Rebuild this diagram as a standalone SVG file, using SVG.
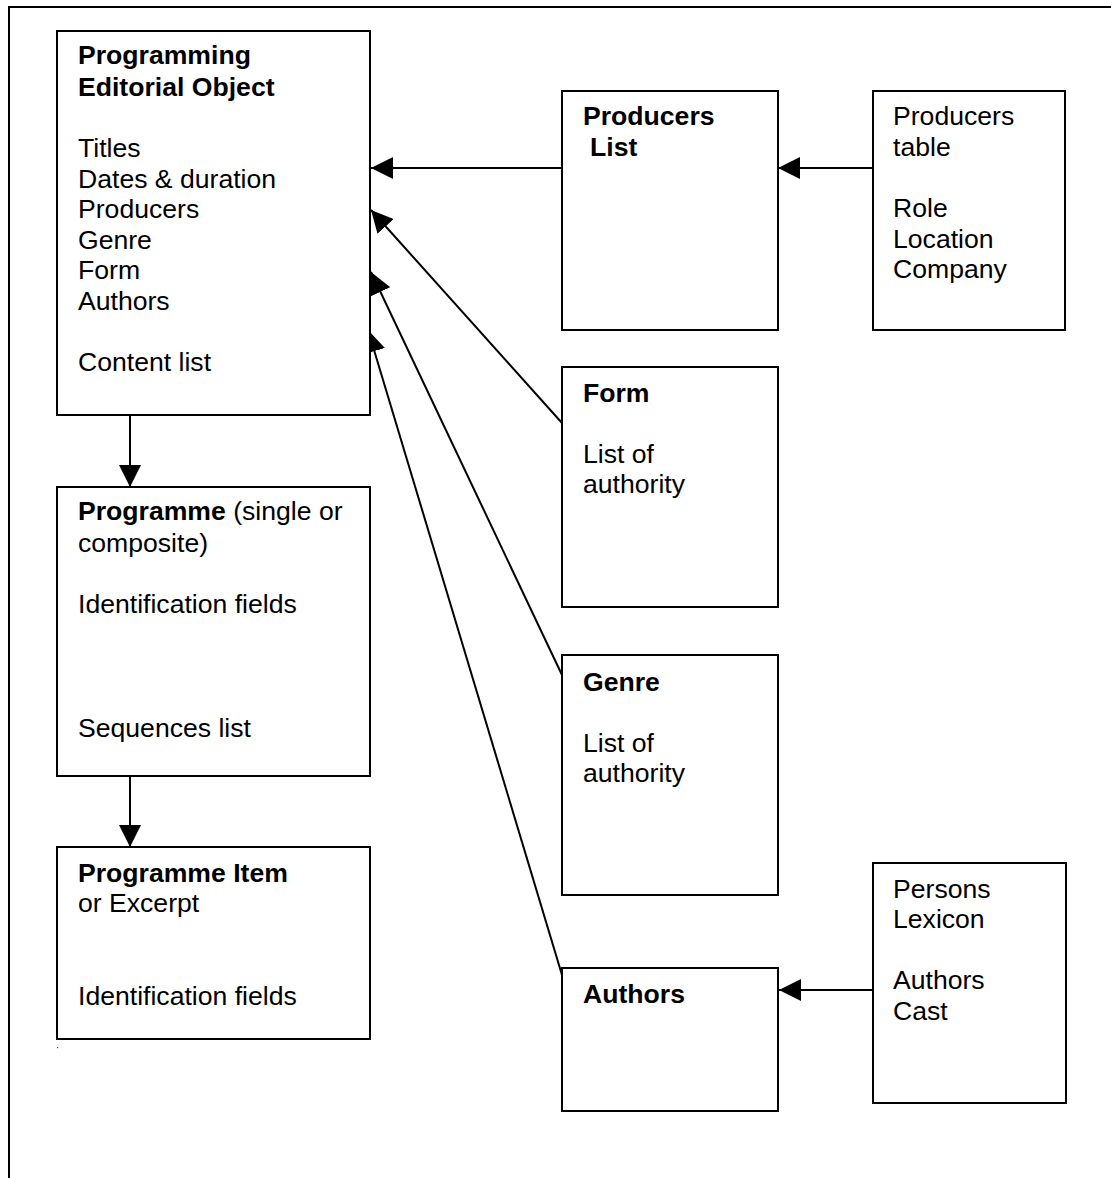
<svg xmlns="http://www.w3.org/2000/svg" width="1111" height="1178" viewBox="0 0 1111 1178">
  <style>
    .box { fill: #ffffff; stroke: #000000; stroke-width: 2; }
    .frame { fill: none; stroke: #000000; stroke-width: 2; }
    .conn { fill: none; stroke: #000000; stroke-width: 2; marker-end: url(#arrow); }
    text { font-family: "Liberation Sans", Arial, sans-serif; font-size: 26.6px; fill: #000000; }
    .b { font-weight: bold; }
  </style>
  <defs>
    <marker id="arrow" markerUnits="userSpaceOnUse" markerWidth="22" markerHeight="22" viewBox="0 0 20 20" refX="20" refY="10" orient="auto">
      <path d="M20,10 L0,0 L0,20 z" fill="#000000"/>
    </marker>
  </defs>

  <!-- page frame -->
  <polyline class="frame" points="9,1178 9,7 1111,7"/>

  <!-- connectors -->
  <g id="connectors">
    <line class="conn" x1="562" y1="168" x2="371" y2="168"/>
    <line class="conn" x1="873" y1="168" x2="778" y2="168"/>
    <line class="conn" x1="562" y1="423" x2="371" y2="210"/>
    <line class="conn" x1="562" y1="675" x2="371" y2="272"/>
    <line class="conn" x1="562" y1="975" x2="368" y2="330"/>
    <line class="conn" x1="873" y1="990" x2="779" y2="990"/>
    <line class="conn" x1="130" y1="415" x2="130" y2="487"/>
    <line class="conn" x1="130" y1="776" x2="130" y2="847"/>
  </g>

  <g id="editorial-object">
    <rect class="box" x="57" y="31" width="313" height="384"/>
    <text class="b" x="78" y="64">Programming</text>
    <text class="b" x="78" y="96">Editorial Object</text>
    <text x="78" y="157">Titles</text>
    <text x="78" y="188">Dates &amp; duration</text>
    <text x="78" y="218">Producers</text>
    <text x="78" y="249">Genre</text>
    <text x="78" y="279">Form</text>
    <text x="78" y="310">Authors</text>
    <text x="78" y="371">Content list</text>
  </g>

  <g id="programme">
    <rect class="box" x="57" y="487" width="313" height="289"/>
    <text x="78" y="520"><tspan class="b">Programme</tspan> (single or</text>
    <text x="78" y="552">composite)</text>
    <text x="78" y="613">Identification fields</text>
    <text x="78" y="737">Sequences list</text>
  </g>

  <g id="programme-item">
    <rect class="box" x="57" y="847" width="313" height="192"/>
    <text class="b" x="78" y="882">Programme Item</text>
    <text x="78" y="912">or Excerpt</text>
    <text x="78" y="1005">Identification fields</text>
  </g>
  <rect x="57" y="1047" width="1.2" height="1.2" fill="#555555"/>

  <g id="producers-list">
    <rect class="box" x="562" y="91" width="216" height="239"/>
    <text class="b" x="583" y="125">Producers</text>
    <text class="b" x="590" y="156">List</text>
  </g>

  <g id="producers-table">
    <rect class="box" x="873" y="91" width="192" height="239"/>
    <text x="893" y="125">Producers</text>
    <text x="893" y="156">table</text>
    <text x="893" y="217">Role</text>
    <text x="893" y="248">Location</text>
    <text x="893" y="278">Company</text>
  </g>

  <g id="form">
    <rect class="box" x="562" y="367" width="216" height="240"/>
    <text class="b" x="583" y="402">Form</text>
    <text x="583" y="463">List of</text>
    <text x="583" y="493">authority</text>
  </g>

  <g id="genre">
    <rect class="box" x="562" y="655" width="216" height="240"/>
    <text class="b" x="583" y="691">Genre</text>
    <text x="583" y="752">List of</text>
    <text x="583" y="782">authority</text>
  </g>

  <g id="authors">
    <rect class="box" x="562" y="968" width="216" height="143"/>
    <text class="b" x="583" y="1003">Authors</text>
  </g>

  <g id="persons-lexicon">
    <rect class="box" x="873" y="863" width="193" height="240"/>
    <text x="893" y="898">Persons</text>
    <text x="893" y="928">Lexicon</text>
    <text x="893" y="989">Authors</text>
    <text x="893" y="1020">Cast</text>
  </g>
</svg>
